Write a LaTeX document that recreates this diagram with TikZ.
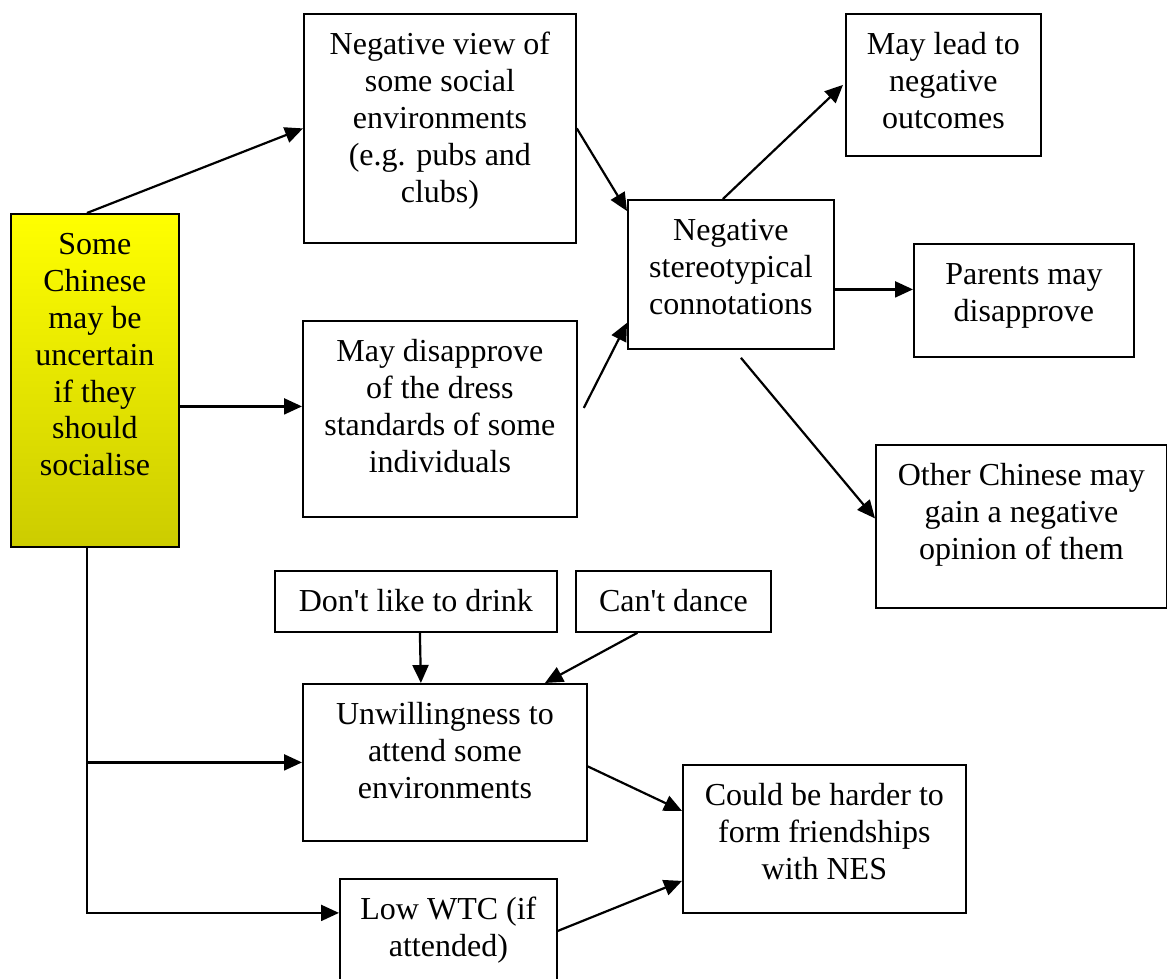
\documentclass[tikz,border=0pt]{standalone}
\usepackage{fontspec}
\setmainfont{Liberation Serif}
\usetikzlibrary{arrows.meta,calc}
% box body: fixed width and height, text centred from the top
\newcommand{\boxbody}[3]{\parbox[c][#2pt][t]{#1pt}{\centering\rule{0pt}{41pt}#3}}
\definecolor{olivebottom}{RGB}{204,204,0}
\begin{document}
\begin{tikzpicture}[x=1pt,y=-1pt,
  box/.style={draw, line width=1.8pt, inner sep=0pt, anchor=north west,
              font=\fontsize{32}{36.8}\selectfont},
  arr/.style={line width=2.2pt, -{Triangle[length=18pt,width=16pt]}}]
\useasboundingbox (0,0) rectangle (1167,978);
\clip (0,0) rectangle (1167,978);

% boxes
\node[box, top color=yellow, bottom color=olivebottom] (ys) at (10,213)
  {\boxbody{168}{333}{Some\\Chinese\\may be\\uncertain\\if they\\should\\socialise}};
\node[box] (nv) at (303,13)
  {\boxbody{272}{229}{Negative view of\\some social\\environments\\(e.g. pubs and\\clubs)}};
\node[box] (ds) at (302,320)
  {\boxbody{274}{196}{May disapprove\\of the dress\\standards of some\\individuals}};
\node[box] (ns) at (627,199)
  {\boxbody{206}{149}{Negative\\stereotypical\\connotations}};
\node[box] (ml) at (845,13)
  {\boxbody{195}{142}{May lead to\\negative\\outcomes}};
\node[box] (pd) at (913,243)
  {\boxbody{220}{113}{Parents may\\disapprove}};
\node[box] (op) at (875,444)
  {\boxbody{291}{163}{Other Chinese may\\gain a negative\\opinion of them}};
\node[box] (dk) at (274,570)
  {\boxbody{282}{61}{Don\textquotesingle t like to drink}};
\node[box] (cd) at (575,570)
  {\boxbody{195}{61}{Can\textquotesingle t dance}};
\node[box] (uw) at (302,683)
  {\boxbody{284}{157}{Unwillingness to\\attend some\\environments}};
\node[box] (ch) at (682,764)
  {\boxbody{283}{148}{Could be harder to\\form friendships\\with NES}};
\node[box] (lw) at (339,878)
  {\boxbody{217}{110}{Low WTC (if\\attended)}};

% connectors
\draw[arr] ([xshift=-8]ys.north) -- (nv.west);
\draw[arr] ([yshift=-26]ys.east) -- ([yshift=-26]ys.east -| ds.west);
\draw[arr] (nv.east) -- ([yshift=-12]ns.north west);
\draw[arr] ([xshift=6,yshift=11]ds.east) -- ([yshift=27]ns.south west);
\draw[arr] ([xshift=-8]ns.north) -- ([xshift=-2]ml.west);
\draw[arr] ([yshift=-15]ns.east) -- ([yshift=-15]ns.east -| pd.west);
\draw[arr] ([xshift=10,yshift=-8]ns.south) -- ([yshift=8]op.west);
\draw[arr] ([xshift=4]dk.south) -- ([xshift=-24]uw.north);
\draw[arr] ([xshift=-36]cd.south) -- ([xshift=100]uw.north);
\draw[arr] ([yshift=-4]uw.east) -- ([yshift=28]ch.west);
\draw[arr] ([yshift=3]lw.east) -- ([yshift=-42]ch.west);
\draw[arr] ([xshift=-8]ys.south) |- ([yshift=21]lw.west);
\draw[arr] ([xshift=-8]ys.south |- uw.west) -- (uw.west);
\end{tikzpicture}
\end{document}
